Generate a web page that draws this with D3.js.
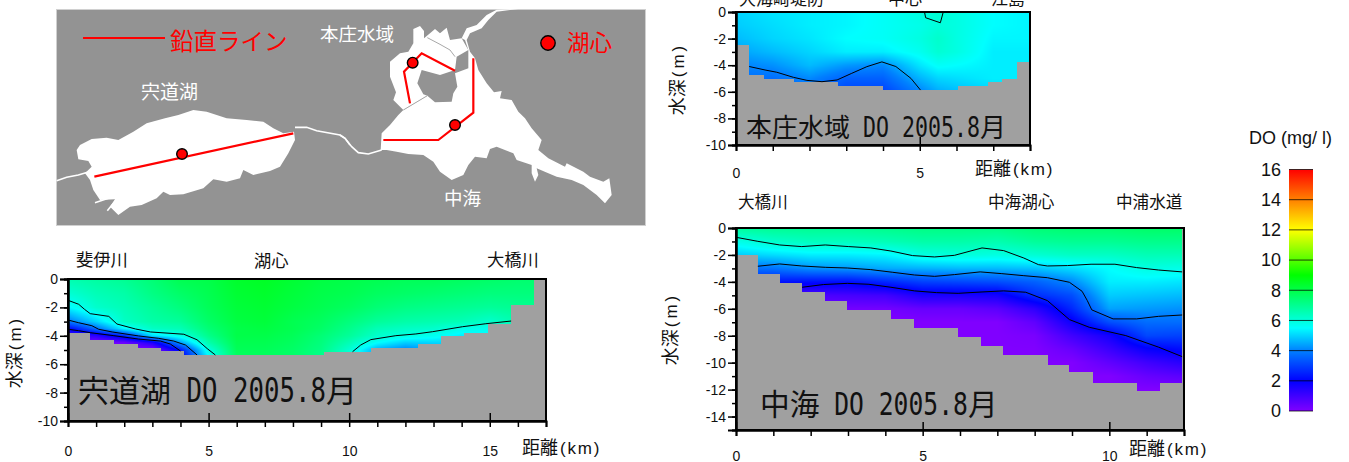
<!DOCTYPE html>
<html>
<head>
<meta charset="utf-8">
<script src="https://cdn.jsdelivr.net/npm/d3@7"></script>
<style>
  html, body { margin: 0; padding: 0; background: #fff; overflow: hidden; }
  text { font-family: "Noto Sans CJK JP", sans-serif; fill: #111; }
  .num, .num text { font-family: "Liberation Sans", sans-serif; font-size: 14px; }
  .axis path, .axis line { stroke: #000; }
  .axis path { stroke-width: 2; }
  .axis line { stroke-width: 1.5; }
</style>
</head>
<body>
<svg id="chart" width="1349" height="462"></svg>
<script>
// DO colour bar
const doStops = [0, 2, 4, 5.5, 9, 12, 14, 16];
const doColors = ['#8000ff', '#0000ff', '#0080ff', '#00ffff', '#00ff00', '#ffff00', '#ff8000', '#ff0000'];
const doTicks = [0, 2, 4, 6, 8, 10, 12, 14, 16];

// Shinji section: [km, depth m]
const shinjiBottomEdges = [0, 0.8, 1.63, 2.49, 3.3, 4.13, 9.11, 10.78, 12.45, 13.27, 14.09, 14.94, 15.76, 16.58, 17];
const shinjiBottomDepths = [3.78, 4.27, 4.55, 4.84, 5.07, 5.35, 5.12, 4.84, 4.55, 3.99, 3.78, 3.19, 1.85, 0];
const shinjiFieldKm = [0, 1, 2, 3, 4, 5, 6, 7, 8, 9, 10, 11, 12, 13, 14, 15, 16, 17];
const shinjiFieldDepth = [0, 1, 2, 3, 3.5, 4, 4.5, 5, 6];
const shinjiField = [
  [6.6, 6.1, 5.4, 3.9, 2.0, 1.0, 0, 0, 0],
  [6.8, 6.5, 6.2, 5.0, 3.7, 1.3, 0, 0, 0],
  [7.0, 6.7, 6.5, 6.3, 5.4, 2.6, 0.3, 0, 0],
  [7.4, 7.2, 6.9, 6.7, 6.3, 5.1, 1.5, 0, 0],
  [7.9, 7.6, 7.3, 6.9, 6.5, 5.8, 4.3, 2.3, 1],
  [8.0, 7.9, 7.8, 7.6, 7.4, 7.1, 6.6, 5.9, 5],
  [8.4, 8.3, 8.2, 8.1, 8.0, 8.0, 7.9, 7.8, 7.5],
  [8.5, 8.4, 8.3, 8.2, 8.1, 8.0, 7.9, 7.8, 7.6],
  [8.3, 8.2, 8.1, 7.9, 7.9, 7.8, 7.7, 7.6, 7.5],
  [8.1, 8.0, 7.9, 7.7, 7.6, 7.4, 7.3, 7.2, 7],
  [8.0, 7.9, 7.7, 7.3, 7.1, 6.9, 6.5, 6.1, 6],
  [7.9, 7.7, 7.4, 6.9, 6.5, 6.2, 5.5, 4.5, 4.2],
  [7.8, 7.6, 7.2, 6.7, 6.3, 5.9, 4.9, 4.0, 3.8],
  [7.8, 7.5, 7.1, 6.6, 6.2, 5.7, 5.0, 4.5, 4.2],
  [7.7, 7.4, 7.0, 6.5, 5.8, 5.3, 5.0, 5.0, 5],
  [7.6, 7.3, 6.9, 6.2, 5.7, 5.5, 5.5, 5.5, 5],
  [7.5, 7.3, 7.0, 6.6, 6.3, 6.0, 6.0, 6.0, 6],
  [7.5, 7.3, 7.0, 6.6, 6.3, 6.0, 6.0, 6.0, 6]
];
const shinjiLineA = [[0, 1.5], [0.38, 1.78], [0.59, 2.14], [0.79, 2.44], [1.45, 2.63], [1.74, 3.17], [2.4, 3.52], [2.93, 3.73], [4.12, 3.89], [4.59, 4.28], [4.95, 4.9], [5.24, 5.35]];
const shinjiLineB = [[0, 2.89], [0.38, 3.08], [0.85, 3.29], [1.09, 3.54], [1.57, 3.73], [2.51, 4.01], [3.23, 4.18], [3.76, 4.37], [4.18, 4.65], [4.59, 5.35]];
const shinjiLineC = [[0, 3.54], [0.38, 3.64], [0.79, 3.78], [1.63, 3.99], [2.51, 4.23], [3.29, 4.37], [3.64, 4.58], [4.0, 5.07]];
const shinjiLineD = [[10.12, 5.12], [10.41, 4.65], [10.77, 4.27], [11.66, 3.99], [12.37, 3.87], [12.97, 3.71], [14.03, 3.36], [14.86, 3.15], [15.76, 2.96]];

// Honjo section
const honjoBottomEdges = [0, 0.36, 0.76, 1.59, 2.77, 4.0, 6.05, 6.85, 7.25, 7.64, 8];
const honjoBottomDepths = [2.5, 4.7, 5.0, 5.3, 5.6, 5.9, 5.6, 5.3, 5.0, 3.73];
const honjoFieldKm = [0, 1, 2, 3, 4, 5, 5.5, 6, 7, 8];
const honjoFieldDepth = [0, 1, 2, 3, 4, 5, 6];
const honjoField = [
  [5.0, 4.9, 4.7, 4.4, 4.0, 3.8, 3.5],
  [5.2, 5.1, 5.0, 4.7, 4.2, 3.7, 3.4],
  [5.3, 5.3, 5.2, 5.0, 4.7, 4.1, 3.7],
  [5.4, 5.4, 5.5, 5.3, 4.3, 3.5, 3.0],
  [5.6, 5.6, 5.6, 5.3, 4.1, 3.5, 3.0],
  [5.9, 5.8, 5.9, 5.7, 5.2, 4.6, 4.0],
  [6.1, 6.0, 6.2, 6.1, 5.6, 5.0, 4.5],
  [5.9, 5.9, 5.9, 5.9, 5.5, 5.1, 4.7],
  [5.5, 5.5, 5.4, 5.3, 5.3, 5.3, 5.0],
  [5.4, 5.4, 5.4, 5.3, 5.3, 5.3, 5.0]
];
const honjoLineA = [[0.36, 4.1], [0.79, 4.36], [1.11, 4.53], [1.56, 4.91], [1.93, 5.14], [2.34, 5.24], [2.75, 5.11], [3.15, 4.61], [3.56, 4.11], [3.97, 3.75], [4.35, 4.1], [4.76, 4.99], [5.02, 5.87]];
const honjoLineB = [[5.13, 0], [5.16, 0.43], [5.56, 0.81], [5.64, 0]];

// Nakaumi section
const nakaumiBottomEdges = [0, 0.585, 1.17, 1.77, 2.38, 2.98, 4.16, 4.77, 5.95, 6.55, 7.16, 8.37, 8.93, 9.55, 10.73, 11.35, 11.95, 12];
const nakaumiBottomDepths = [2.03, 3.39, 4.06, 4.72, 5.39, 6.06, 6.73, 7.4, 8.06, 8.73, 9.4, 10.14, 10.73, 11.48, 12.07, 11.48, 0];
const nakaumiFieldKm = [0, 1, 2, 3, 4, 5, 6, 7, 8, 9, 10, 11, 12];
const nakaumiFieldDepth = [0, 1, 2, 3, 4, 5, 6, 7, 8, 9, 10, 11, 12];
const nakaumiField = [
  [6.9, 5.8, 4.9, 3.7, 2.5, 1.5, 0.5, 0, 0, 0, 0, 0, 0],
  [7.0, 6.2, 5.1, 3.8, 2.3, 0.8, 0.2, 0, 0, 0, 0, 0, 0],
  [7.0, 6.4, 5.3, 4.2, 2.2, 0.8, 0.1, 0, 0, 0, 0, 0, 0],
  [7.0, 6.4, 5.3, 4.3, 2.2, 0.9, 0.2, 0, 0, 0, 0, 0, 0],
  [7.1, 6.5, 5.4, 4.5, 2.6, 1.0, 0.2, 0, 0, 0, 0, 0, 0],
  [7.2, 6.7, 5.9, 4.6, 3.0, 1.6, 0.4, 0, 0, 0, 0, 0, 0],
  [7.2, 6.7, 6.0, 4.7, 3.1, 1.6, 0.4, 0, 0, 0, 0, 0, 0],
  [7.2, 6.6, 5.9, 4.7, 3.2, 1.7, 0.6, 0, 0, 0, 0, 0, 0],
  [7.4, 6.9, 6.1, 4.8, 3.5, 2.7, 1.3, 0.5, 0.1, 0, 0, 0, 0],
  [7.5, 7.0, 6.3, 5.1, 4.1, 3.2, 2.6, 1.8, 1.0, 0.4, 0, 0, 0],
  [7.5, 7.0, 6.3, 5.5, 5.3, 4.9, 4.4, 3.2, 1.7, 1.1, 0.5, 0, 0],
  [7.6, 7.1, 6.5, 5.9, 5.3, 4.8, 4.3, 3.7, 3.1, 1.9, 1.0, 0.4, 0],
  [7.6, 7.1, 6.5, 5.8, 5.2, 4.7, 4.2, 3.7, 3.0, 2.2, 1.4, 0.6, 0]
];
const nakaumiLineA = [[0, 0.69], [0.585, 0.99], [1.17, 1.26], [1.76, 1.38], [2.39, 1.26], [3.02, 1.38], [3.61, 1.48], [4.15, 1.71], [4.73, 2.05], [5.32, 2.15], [5.85, 2.03], [6.59, 1.48], [7.17, 1.68], [7.71, 2.23], [8.1, 2.72], [8.34, 2.82], [8.88, 2.79], [9.51, 2.69], [10.15, 2.69], [10.73, 2.94], [11.32, 3.12], [11.95, 3.26]];
const nakaumiLineB = [[0.585, 2.84], [1.17, 2.67], [1.76, 2.82], [2.39, 2.92], [2.98, 2.97], [3.61, 3.09], [4.2, 3.29], [4.78, 3.49], [5.32, 3.59], [5.85, 3.46], [6.54, 3.26], [7.12, 3.39], [7.71, 3.54], [8.34, 3.69], [8.93, 4.03], [9.27, 4.7], [9.41, 5.39], [9.53, 6.08], [10.1, 6.75], [10.73, 6.75], [11.32, 6.56], [11.95, 6.46]];
const nakaumiLineC = [[1.77, 4.4], [2.34, 4.2], [2.98, 4.11], [3.56, 4.18], [4.15, 4.4], [4.78, 4.67], [5.37, 4.8], [5.95, 4.85], [6.59, 4.75], [7.17, 4.67], [7.76, 4.77], [8.34, 5.39], [8.93, 6.8], [9.46, 7.37], [10.44, 7.99], [11.32, 8.85], [11.95, 9.55]];

// map outlines, traced in two source frames
const shinjiLake = [[80, 180], [90, 165], [125, 147], [170, 143], [205, 150], [250, 125], [290, 100], [345, 85], [385, 75], [430, 60], [470, 65], [530, 85], [590, 90], [640, 95], [670, 115], [700, 130], [732, 125], [735, 150], [715, 190], [690, 230], [660, 243], [610, 255], [580, 240], [570, 265], [530, 275], [490, 268], [460, 295], [400, 313], [360, 315], [340, 305], [320, 325], [275, 345], [240, 350], [205, 375], [180, 350], [195, 328], [150, 330], [130, 300], [120, 270], [105, 250], [125, 230], [115, 213], [85, 208]];
const shinjiRiverWest = [[20, 272], [50, 262], [85, 255], [115, 246]];
const shinjiRiverEast = [[735, 112], [770, 112], [800, 122], [870, 135], [885, 145], [900, 165]];
const shinjiInletA = [[135, 338], [175, 325]];
const shinjiInletB = [[172, 362], [198, 330]];
const ohashiRiver = [[0, 390], [15, 400], [35, 425], [55, 443], [85, 447], [125, 435]];
const nakaumiLake = [[122, 435], [125, 385], [150, 360], [175, 330], [190, 315], [262, 272], [285, 292], [335, 290], [340, 265], [352, 245], [345, 205], [385, 190], [385, 135], [375, 105], [365, 100], [380, 70], [410, 60], [440, 30], [470, 14], [535, 12], [470, 20], [445, 45], [425, 70], [390, 85], [380, 105], [390, 140], [405, 160], [415, 195], [440, 235], [462, 262], [485, 258], [480, 280], [515, 285], [535, 320], [555, 340], [575, 370], [605, 405], [595, 435], [625, 460], [675, 485], [680, 475], [730, 500], [750, 515], [790, 530], [808, 520], [815, 570], [795, 595], [770, 570], [730, 540], [695, 525], [650, 515], [625, 505], [590, 490], [595, 510], [585, 530], [575, 505], [575, 480], [530, 465], [520, 445], [470, 425], [450, 432], [440, 460], [405, 455], [385, 480], [370, 510], [335, 525], [300, 500], [280, 470], [250, 450], [205, 447], [170, 440], [140, 435]];
const honjoLake = [[190, 315], [160, 285], [168, 262], [150, 215], [150, 170], [180, 145], [205, 140], [220, 115], [220, 72], [240, 63], [252, 78], [252, 100], [270, 85], [285, 72], [300, 85], [320, 68], [330, 105], [365, 100], [385, 135], [350, 155], [345, 195], [300, 210], [245, 195], [232, 235], [250, 268], [262, 272]];
const islandShore = [[262, 98], [300, 118], [330, 135], [345, 155]];
const honjoCauseway = [[190, 315], [262, 272]];
const shinjiRoute = [[133, 260], [730, 130]];
const honjoRoute = [[210, 295], [192, 200], [245, 145], [345, 197]];
const nakaumiRoute = [[400, 160], [400, 323], [295, 405], [130, 405]];
const shinjiCenter = [396, 192];
const honjoCenter = [218, 173];
const nakaumiCenter = [345, 360];

const svg = d3.select('#chart');
const doColor = d3.scaleLinear().domain(doStops).range(doColors).clamp(true);

// --- the three sections ---
function drawSection(opt) {
  const x = d3.scaleLinear().domain([0, opt.kmMax]).range([opt.left, opt.right]);
  const y = d3.scaleLinear().domain([0, opt.depthMax]).range([opt.top, opt.bottom]);
  const g = svg.append('g');

  // field, painted per pixel on a canvas and placed as an image
  const w = Math.round(x.range()[1] - x.range()[0]);
  const h = Math.round(y.range()[1] - y.range()[0]);
  const canvas = document.createElement('canvas');
  canvas.width = w;
  canvas.height = h;
  const ctx = canvas.getContext('2d');
  const lastKm = opt.fieldKm.length - 1;
  const lastD = opt.fieldDepth.length - 1;
  for (let i = 0; i < w; i++) {
    const km = x.invert(opt.left + i + 0.5);
    const a = Math.min(lastKm - 1, Math.max(0, d3.bisectRight(opt.fieldKm, km) - 1));
    const tx = Math.min(1, (km - opt.fieldKm[a]) / (opt.fieldKm[a + 1] - opt.fieldKm[a]));
    for (let j = 0; j < h; j++) {
      const d = y.invert(opt.top + j + 0.5);
      const b = Math.min(lastD - 1, Math.max(0, d3.bisectRight(opt.fieldDepth, d) - 1));
      const ty = Math.min(1, (d - opt.fieldDepth[b]) / (opt.fieldDepth[b + 1] - opt.fieldDepth[b]));
      const v0 = opt.field[a][b] * (1 - ty) + opt.field[a][b + 1] * ty;
      const v1 = opt.field[a + 1][b] * (1 - ty) + opt.field[a + 1][b + 1] * ty;
      ctx.fillStyle = doColor(v0 * (1 - tx) + v1 * tx);
      ctx.fillRect(i, j, 1, 1);
    }
  }
  g.append('image')
    .attr('x', opt.left).attr('y', opt.top)
    .attr('width', w).attr('height', h)
    .attr('href', canvas.toDataURL());

  // bottom profile, one stepped shape
  const steps = opt.bottomEdges.map((e, i) => [e, opt.bottomDepths[Math.min(i, opt.bottomDepths.length - 1)]]);
  const area = d3.area().curve(d3.curveStepAfter)
    .x((d) => x(d[0])).y0(y(opt.depthMax)).y1((d) => y(d[1]));
  g.append('path').attr('d', area(steps)).attr('fill', '#a0a0a0').attr('shape-rendering', 'crispEdges');

  // isolines
  const line = d3.line().x((d) => x(d[0])).y((d) => y(d[1]));
  opt.lines.forEach((pts) => {
    g.append('path').attr('d', line(pts)).attr('fill', 'none').attr('stroke', '#000').attr('stroke-width', 1);
  });

  // frame
  g.append('rect')
    .attr('x', opt.left).attr('y', opt.top)
    .attr('width', opt.right - opt.left).attr('height', opt.bottom - opt.top)
    .attr('fill', 'none').attr('stroke', '#000').attr('stroke-width', 2);

  // axes
  const yMajor = d3.range(0, opt.depthMax + 1, 2);
  const yMinor = d3.range(0, opt.depthMax + 1, 1);
  g.append('g').attr('class', 'axis').attr('transform', `translate(${opt.left},0)`)
    .call(d3.axisLeft(y).tickValues(yMinor).tickSize(4).tickFormat(''));
  g.append('g').attr('class', 'axis num').attr('transform', `translate(${opt.left},0)`)
    .call(d3.axisLeft(y).tickValues(yMajor).tickSize(8).tickPadding(2).tickFormat((d) => (d === 0 ? '0' : '-' + d)));

  g.append('g').attr('class', 'axis').attr('transform', `translate(0,${opt.bottom})`)
    .call(d3.axisBottom(x).tickValues(d3.range(0, opt.kmMax + 1)).tickSize(6).tickFormat(''));
  g.append('g').attr('class', 'axis num').attr('transform', `translate(0,${opt.bottom})`)
    .call(d3.axisBottom(x).tickValues(opt.kmLabels).tickSizeInner(-8).tickSizeOuter(0).tickPadding(opt.xPad).tickFormat((d) => d))
    .call((s) => s.selectAll('.tick text').attr('dy', '0.35em'));
  g.selectAll('.axis text').attr('fill', '#111').style('font-family', '"Liberation Sans", sans-serif').style('font-size', '14px');

  // labels
  g.append('text')
    .attr('transform', `translate(${opt.yLabel[0]},${opt.yLabel[1]}) rotate(-90)`)
    .attr('text-anchor', 'middle').attr('font-size', 18)
    .html('水深<tspan font-family="Liberation Sans" font-size="17" letter-spacing="3" dx="2">(m)</tspan>');

  g.append('text')
    .attr('x', opt.xLabel[0]).attr('y', opt.xLabel[1]).attr('font-size', 18)
    .html('距離<tspan font-family="Liberation Sans" font-size="17" letter-spacing="1.8" dx="2">(km)</tspan>');

  opt.places.forEach((p) => {
    g.append('text').attr('x', p[1]).attr('y', p[2]).attr('font-size', opt.placeSize).text(p[0]);
  });

  // title: gothic name, half-width latin, 月
  const size = opt.titleSize;
  const half = size / 2;
  const nameWidth = opt.titleName.length * size;
  const latinSize = size * 1.06;
  const squeeze = half / (0.602 * latinSize);
  g.append('text').attr('x', opt.titleAt[0]).attr('y', opt.titleAt[1]).attr('font-size', size).text(opt.titleName);
  g.append('text')
    .attr('transform', `translate(${opt.titleAt[0] + nameWidth + half},${opt.titleAt[1]}) scale(${squeeze},1)`)
    .style('font-family', '"DejaVu Sans Mono", monospace')
    .attr('font-size', latinSize)
    .text('DO\u00a02005.8');
  g.append('text').attr('x', opt.titleAt[0] + nameWidth + half * 10).attr('y', opt.titleAt[1])
    .attr('font-size', size).text('月');
}

drawSection({
  left: 68, right: 546, top: 279, bottom: 421, kmMax: 17, depthMax: 10, kmLabels: [0, 5, 10, 15], xPad: 30,
  fieldKm: shinjiFieldKm, fieldDepth: shinjiFieldDepth, field: shinjiField,
  bottomEdges: shinjiBottomEdges, bottomDepths: shinjiBottomDepths,
  lines: [shinjiLineA, shinjiLineB, shinjiLineC, shinjiLineD],
  yLabel: [21, 352], xLabel: [522, 454], placeSize: 17.3,
  places: [['斐伊川', 76, 266], ['湖心', 254, 267], ['大橋川', 487, 266]],
  titleName: '宍道湖', titleSize: 31, titleAt: [78, 402]
});
drawSection({
  left: 736, right: 1030, top: 12, bottom: 145, kmMax: 8, depthMax: 10, kmLabels: [0, 5], xPad: 28,
  fieldKm: honjoFieldKm, fieldDepth: honjoFieldDepth, field: honjoField,
  bottomEdges: honjoBottomEdges, bottomDepths: honjoBottomDepths,
  lines: [honjoLineA, honjoLineB],
  yLabel: [684, 79], xLabel: [975, 175], placeSize: 17,
  places: [['大海崎堤防', 739, 5], ['中心', 888, 5], ['江島', 991, 5]],
  titleName: '本庄水域', titleSize: 26, titleAt: [746, 137]
});
drawSection({
  left: 736, right: 1184, top: 228, bottom: 430, kmMax: 12, depthMax: 15, kmLabels: [0, 5, 10], xPad: 26,
  fieldKm: nakaumiFieldKm, fieldDepth: nakaumiFieldDepth, field: nakaumiField,
  bottomEdges: nakaumiBottomEdges, bottomDepths: nakaumiBottomDepths,
  lines: [nakaumiLineA, nakaumiLineB, nakaumiLineC],
  yLabel: [677, 329], xLabel: [1129, 455], placeSize: 16.6,
  places: [['大橋川', 738, 208], ['中海湖心', 988, 208], ['中浦水道', 1116, 208]],
  titleName: '中海', titleSize: 29.7, titleAt: [760, 415]
});

// --- map ---
const map = svg.append('g');
const westX = d3.scaleLinear().domain([0, 900]).range([50, 350]);
const westY = d3.scaleLinear().domain([0, 420]).range([90, 230]);
const eastX = d3.scaleLinear().domain([0, 840]).range([340, 620]);
const eastY = d3.scaleLinear().domain([0, 645]).range([5, 220]);
const west = d3.line().x((d) => westX(d[0])).y((d) => westY(d[1]));
const east = d3.line().x((d) => eastX(d[0])).y((d) => eastY(d[1]));

map.append('rect').attr('x', 56.5).attr('y', 9.5).attr('width', 589).attr('height', 216)
  .attr('fill', '#939393').attr('stroke', '#d0d0d0');

map.append('path').attr('d', west(shinjiLake) + 'Z').attr('fill', '#fff');
map.append('path').attr('d', east(nakaumiLake) + 'Z').attr('fill', '#fff');
map.append('path').attr('d', east(honjoLake) + 'Z').attr('fill', '#fff');
[shinjiRiverWest, shinjiRiverEast, shinjiInletA, shinjiInletB].forEach((r) => {
  map.append('path').attr('d', west(r)).attr('fill', 'none').attr('stroke', '#fff').attr('stroke-width', 1.6);
});
map.append('path').attr('d', east(ohashiRiver)).attr('fill', 'none').attr('stroke', '#fff').attr('stroke-width', 1.6);
[islandShore, honjoCauseway].forEach((r) => {
  map.append('path').attr('d', east(r)).attr('fill', 'none').attr('stroke', '#a8a8a8').attr('stroke-width', 1);
});

map.append('path').attr('d', west(shinjiRoute)).attr('fill', 'none').attr('stroke', '#f00').attr('stroke-width', 2.2);
[honjoRoute, nakaumiRoute].forEach((r) => {
  map.append('path').attr('d', east(r)).attr('fill', 'none').attr('stroke', '#f00').attr('stroke-width', 2.2);
});

const dot = (cx, cy, r) => map.append('circle').attr('cx', cx).attr('cy', cy).attr('r', r)
  .attr('fill', '#f00').attr('stroke', '#000').attr('stroke-width', 1.4);
dot(westX(shinjiCenter[0]), westY(shinjiCenter[1]), 5.3);
dot(eastX(honjoCenter[0]), eastY(honjoCenter[1]), 5.3);
dot(eastX(nakaumiCenter[0]), eastY(nakaumiCenter[1]), 5.3);
dot(548, 43, 7.2);

map.append('line').attr('x1', 83).attr('x2', 165).attr('y1', 38).attr('y2', 38).attr('stroke', '#f00').attr('stroke-width', 2);
map.append('text').attr('x', 170).attr('y', 50).attr('font-size', 23.5).style('fill', '#f00').text('鉛直ライン');
map.append('text').attr('x', 567).attr('y', 51).attr('font-size', 22.5).style('fill', '#f00').text('湖心');
map.append('text').attr('x', 320).attr('y', 41).attr('font-size', 18.5).style('fill', '#fff').text('本庄水域');
map.append('text').attr('x', 141).attr('y', 99).attr('font-size', 19).style('fill', '#fff').text('宍道湖');
map.append('text').attr('x', 444).attr('y', 205).attr('font-size', 18.5).style('fill', '#fff').text('中海');

// --- colour bar ---
const barY = d3.scaleLinear().domain([0, 16]).range([411, 169.5]);
const legend = svg.append('g');
const grad = svg.append('defs').append('linearGradient').attr('id', 'doGrad')
  .attr('x1', 0).attr('x2', 0).attr('y1', 1).attr('y2', 0);
doStops.forEach((s, i) => {
  grad.append('stop').attr('offset', s / 16).attr('stop-color', doColors[i]);
});
legend.append('rect').attr('x', 1289).attr('width', 24).attr('y', barY(16)).attr('height', barY(0) - barY(16))
  .attr('fill', 'url(#doGrad)');
legend.selectAll('line.band').data(doTicks).join('line').attr('class', 'band')
  .attr('x1', 1289).attr('x2', 1313).attr('y1', (d) => barY(d)).attr('y2', (d) => barY(d))
  .attr('stroke', '#000').attr('stroke-opacity', 0.75);
legend.selectAll('text.lab').data(doTicks).join('text').attr('class', 'lab')
  .attr('x', 1281).attr('y', (d) => barY(d)).attr('dy', '0.35em').attr('text-anchor', 'end')
  .style('font-family', '"Liberation Sans", sans-serif').attr('font-size', 18).text((d) => d);
legend.append('text').attr('x', 1249).attr('y', 144).style('font-family', '"Liberation Sans", sans-serif')
  .attr('font-size', 18).text('DO (mg/ l)');
</script>
</body>
</html>
